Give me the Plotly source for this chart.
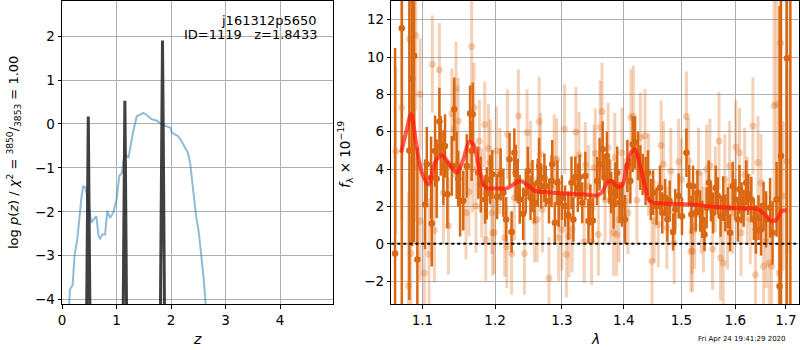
import plotly.graph_objects as go

# ---------------- Left panel: log p(z) ----------------
pz_z = [0.128, 0.146, 0.195, 0.23, 0.28, 0.33, 0.36, 0.39, 0.43, 0.46, 0.50, 0.54, 0.60, 0.63, 0.67,
        0.70, 0.74, 0.79, 0.83, 0.88, 0.94, 1.00, 1.05, 1.10, 1.13, 1.17, 1.22, 1.26, 1.30, 1.37,
        1.43, 1.49, 1.55, 1.64, 1.73, 1.82, 1.91, 1.99, 2.02, 2.07, 2.13, 2.19, 2.25, 2.31, 2.35,
        2.40, 2.46, 2.51, 2.55, 2.60, 2.64]
pz_logp = [-4.2, -3.77, -3.67, -3.0, -2.63, -1.95, -1.64, -1.42, -1.45, -1.64, -1.95, -2.25, -2.14, -2.1, -2.55,
           -2.61, -2.52, -2.52, -1.98, -2.14, -2.02, -1.72, -1.19, -1.11, -0.81, -0.70, -0.77, -0.43, -0.20, 0.17,
           0.21, 0.25, 0.21, 0.11, 0.08, 0.0, -0.05, -0.09, -0.20, -0.24, -0.28, -0.39, -0.51, -0.66, -0.89,
           -1.42, -2.10, -2.48, -2.93, -3.54, -4.2]

spike_z = [0.452, 0.474, 0.482, 0.490, 0.512, None,
           1.122, 1.145, 1.153, 1.161, 1.184, None,
           1.805, 1.834, 1.843, 1.852, 1.880]
spike_logp = [-4.3, -1.0, 0.17, -1.0, -4.3, None,
              -4.3, -0.6, 0.53, -0.6, -4.3, None,
              -4.3, 0.6, 1.90, 0.6, -4.3]

# ---------------- Right panel: spectrum ----------------
dark_lam = [1.0646, 1.0732, 1.083, 1.0865, 1.0891, 1.0934, 1.1036, 1.1058, 1.1115, 1.1124, 1.1168, 1.119,
            1.1226, 1.1244, 1.128, 1.1302, 1.1334, 1.1394, 1.1428, 1.1461, 1.1482, 1.1508, 1.1552, 1.160,
            1.1646, 1.1668, 1.1682, 1.1762, 1.1796, 1.1857, 1.1881, 1.1928,
            1.196, 1.203, 1.208, 1.212, 1.216, 1.221, 1.224, 1.228, 1.230, 1.233, 1.236, 1.241, 1.245,
            1.248, 1.252, 1.255, 1.258, 1.263, 1.265, 1.268, 1.273, 1.275, 1.280, 1.284, 1.285, 1.289,
            1.293, 1.295, 1.300, 1.305, 1.310, 1.315, 1.318, 1.321, 1.325, 1.328, 1.332, 1.337, 1.342,
            1.345,
            1.349, 1.356, 1.360, 1.365, 1.368, 1.372, 1.376, 1.379, 1.383, 1.386, 1.389, 1.393, 1.397,
            1.402, 1.406, 1.411, 1.415, 1.419, 1.424, 1.428, 1.432, 1.437, 1.441, 1.446, 1.450, 1.456,
            1.462, 1.466, 1.471, 1.475, 1.479, 1.485, 1.489, 1.495, 1.501, 1.509, 1.514, 1.518,
            1.521, 1.526, 1.529, 1.534, 1.538, 1.542, 1.546, 1.550, 1.554, 1.558, 1.563, 1.567, 1.572,
            1.577, 1.581, 1.586, 1.590, 1.595, 1.600, 1.605, 1.608, 1.612, 1.616, 1.621, 1.625, 1.631,
            1.636, 1.640, 1.645, 1.650, 1.655, 1.660, 1.668, 1.673, 1.681, 1.687, 1.690, 1.702, 1.709]
dark_flux = [-0.52, 11.54, 5.0, 8.87, 10.07, -0.84, 2.11, 4.26, 3.54, 1.09, 4.97, 3.49,
             6.55, 5.24, 4.08, 5.24, 2.65, 4.17, 7.2, 4.2, 3.49, 2.29, 2.31, 4.17,
             6.98, 4.97, 6.94, 3.81, 3.18, 2.38, 2.7, 3.45,
             3.72, 2.52, 3.72, 2.74, 1.31, 4.53, 0.64, 4.88, 3.81, 3.36, 2.38, 1.61, 2.74,
             3.9, 2.47, 3.09, 2.2, 3.27, 4.17, 3.09, 3.54, 3.09, 2.29, 3.36, 4.26, 1.13,
             3.27, 2.2, 2.47, 2.02, 1.52, 3.27, 1.31, 3.58, 3.0, 3.58, 2.2, 3.63, 1.22,
             2.08,
             1.25, 3.36, 4.26, 5.06, 3.54, 4.7, 3.36, 2.74, 2.11, 3.18, 3.81, 2.2, 2.11,
             1.31, 4.17, 3.36, 5.33, 5.42, 4.7, 4.08, 3.72, 3.36, 3.81, 2.38, 2.74, 2.02,
             3.0, 1.66, 2.47, 1.31, 2.29, 0.64, 1.84, 2.56, 1.48, 4.88, 3.13, 1.57,
             3.09, 1.66, 2.74, 1.75, 1.31, 0.5, 1.93, 3.27, 2.2, 1.66, 3.0, 2.56, 1.48,
             2.42, 1.66, 1.93, 0.59, 3.09, 2.38, 1.31, 2.92, 2.2, 1.9, 3.27, 2.65, 2.38,
             1.31, 0.77, 1.4, 0.77, 2.02, 1.31, 1.93, 0.59, 2.38, -2.27, 4.7, 9.93, 15.0]
dark_err = [11.0, 15.0, 8.0, 9.0, 10.0, 6.0, 2.4, 2.0, 2.2, 2.3, 1.9, 2.1,
            1.8, 1.6, 2.0, 1.7, 1.8, 1.6, 1.7, 1.8, 1.5, 1.9, 1.6, 1.7,
            1.5, 1.6, 1.7, 1.4, 1.5, 1.3, 1.4, 1.3,
            1.3, 1.2, 1.4, 1.3, 1.2, 1.4, 1.1, 1.3, 1.5, 1.2, 1.3, 1.4, 1.1,
            1.3, 1.2, 1.4, 1.1, 1.3, 1.5, 1.2, 1.3, 1.1, 1.2, 1.4, 1.3, 1.1,
            1.2, 1.3, 1.2, 1.1, 1.3, 1.4, 1.2, 1.1, 1.3, 1.2, 1.1, 1.3, 1.2,
            1.1,
            1.2, 1.3, 1.4, 1.5, 1.2, 1.3, 1.2, 1.1, 1.3, 1.2, 1.4, 1.1, 1.2,
            1.3, 1.4, 1.2, 1.5, 1.4, 1.3, 1.2, 1.1, 1.3, 1.2, 1.1, 1.2, 1.0,
            1.2, 1.1, 1.0, 1.2, 1.1, 1.0, 1.1, 1.2, 1.0, 1.3, 1.1, 1.0,
            1.1, 1.0, 1.2, 1.1, 1.0, 0.9, 1.1, 1.2, 1.0, 1.1, 1.2, 1.0, 1.1,
            1.2, 1.0, 1.1, 1.0, 1.3, 1.1, 1.2, 1.3, 1.1, 1.0, 1.2, 1.1, 1.2,
            1.1, 1.3, 1.2, 1.4, 1.3, 1.5, 1.6, 1.7, 2.0, 15.0, 12.0, 14.0, 20.0]

light_lam = [1.0655, 1.0732, 1.083, 1.0849, 1.0817, 1.0869, 1.0895, 1.0913, 1.097, 1.097, 1.1026, 1.1088,
             1.1132, 1.1159, 1.1226, 1.128, 1.1348, 1.1394, 1.1424, 1.1452, 1.1482, 1.159, 1.1632, 1.1668,
             1.170, 1.1682, 1.1728, 1.1776, 1.181, 1.1853, 1.1867, 1.1905, 1.1928, 1.1952, 1.1966,
             1.199, 1.202, 1.207, 1.214, 1.217, 1.218, 1.224, 1.228, 1.234, 1.243, 1.247, 1.252, 1.258,
             1.262, 1.265, 1.267, 1.270, 1.280, 1.288, 1.292, 1.295, 1.300, 1.304, 1.307, 1.311, 1.316,
             1.322, 1.327, 1.335, 1.337, 1.342, 1.347,
             1.351, 1.353, 1.358, 1.361, 1.364, 1.369, 1.374, 1.378, 1.383, 1.385, 1.388, 1.392, 1.397,
             1.402, 1.407, 1.412, 1.416, 1.422, 1.428, 1.436, 1.442, 1.448, 1.452, 1.459, 1.464, 1.468,
             1.474, 1.481, 1.487, 1.495, 1.500, 1.509, 1.513, 1.517, 1.519,
             1.520, 1.524, 1.531, 1.536, 1.540, 1.546, 1.552, 1.557, 1.562, 1.569, 1.572, 1.577, 1.580,
             1.585, 1.589, 1.595, 1.601, 1.608, 1.611, 1.618, 1.623, 1.629, 1.634, 1.639, 1.644, 1.650,
             1.655, 1.660, 1.666, 1.671, 1.676, 1.681, 1.686, 1.689, 1.694, 1.702]
light_flux = [4.97, 7.3, 10.97, -0.52, -2.24, 4.53, 4.22, 11.15, 8.01, 1.22, -1.56, -0.57,
              9.62, 0.73, 9.32, 2.74, 0.95, 6.98, 6.14, 8.32, 6.58, 1.66, 2.79, 10.57,
              7.3, 3.99, 2.02, 5.51, 2.74, 6.39, 0.23, 5.1, 4.35, 1.66, 0.59,
              0.59, 4.97, 3.9, 0.32, -0.16, 5.87, -0.52, 2.47, 6.85, -0.52, 5.96, 4.17, 1.22,
              1.31, 6.55, 4.79, 1.84, -1.84, 4.53, 4.53, 0.32, 0.77, 6.14, -0.57, 0.41, 0.77,
              5.99, 4.76, 0.11, 4.22, 3.09, 0.11,
              4.08, 4.85, 0.5, 6.23, 7.08, 2.38, 5.15, 2.29, 0.59, 4.62, 0.5, 1.31, 4.88,
              2.29, 1.66, 6.76, 6.85, 2.33, 5.69, 5.78, 3.72, -0.93, 1.22, 1.04, 5.28, 4.26,
              0.86, 3.9, 0.05, 4.4, 3.45, 6.82, 4.44, -0.39, 0.68,
              -0.39, 0.95, 3.81, 1.66, 0.77, 3.99, 4.2, -0.27, 2.92, 5.51, -0.75, -1.02, 3.45,
              0.95, 4.17, 1.66, 5.19, 4.88, 0.59, 3.72, 2.38, 1.31, 6.31, -1.65, 4.35, 3.27,
              -1.2, 0.14, -1.02, -1.2, 7.39, 7.48, -1.56, 10.75, 2.56, 4.44]
light_err = [4.5, 6.0, 6.0, 5.0, 5.0, 3.5, 3.0, 4.0, 3.0, 3.2, 2.8, 3.0,
             2.6, 2.8, 2.5, 2.7, 2.6, 2.4, 2.6, 2.5, 2.3, 2.5, 2.4, 2.6,
             2.4, 2.3, 2.5, 2.2, 2.4, 2.3, 2.2, 2.4, 2.3, 2.2, 2.3,
             2.2, 2.4, 2.3, 2.1, 2.2, 2.4, 2.2, 2.3, 2.5, 2.2, 2.3, 2.4, 2.2,
             2.3, 2.4, 2.2, 2.3, 2.2, 2.4, 2.2, 2.3, 2.2, 2.4, 2.3, 2.2, 2.3,
             2.4, 2.3, 2.2, 2.3, 2.2, 2.3,
             2.3, 2.4, 2.2, 2.5, 2.6, 2.3, 2.4, 2.2, 2.3, 2.4, 2.2, 2.3, 2.4,
             2.3, 2.2, 2.6, 2.7, 2.3, 2.4, 2.5, 2.2, 2.3, 2.2, 2.3, 2.4, 2.3,
             2.2, 2.3, 2.2, 2.3, 2.2, 2.4, 2.3, 2.2, 2.3,
             2.2, 2.3, 2.4, 2.2, 2.3, 2.4, 2.5, 2.2, 2.3, 2.6, 2.3, 2.2, 2.4,
             2.3, 2.4, 2.2, 2.5, 2.4, 2.3, 2.5, 2.3, 2.4, 2.6, 2.3, 2.5, 2.6,
             2.4, 2.5, 2.6, 2.5, 6.0, 6.5, 3.5, 8.0, 4.0, 5.0]

model_lam = [1.0723, 1.0787, 1.0852, 1.0917, 1.0992, 1.1079, 1.1169, 1.1258, 1.1348, 1.1462, 1.1553,
             1.1636, 1.1692, 1.1786, 1.1871, 1.2024, 1.2169, 1.2266, 1.2375, 1.2464, 1.2589, 1.2766,
             1.3022, 1.3338, 1.3553, 1.3634, 1.3726, 1.3798, 1.3882, 1.3965, 1.4049, 1.4122, 1.4189,
             1.4262, 1.4360, 1.4446, 1.4678, 1.4975, 1.5277, 1.5583, 1.5898, 1.6153, 1.6414, 1.6544,
             1.6711, 1.6812, 1.6913, 1.7014]
model_flux = [4.88, 5.96, 6.94, 5.42, 3.81, 3.18, 4.35, 4.74, 4.35, 3.81, 4.53,
              5.46, 5.33, 3.81, 3.0, 2.97, 2.97, 3.18, 3.36, 3.18, 2.83, 2.77,
              2.70, 2.65, 2.59, 2.74, 3.27, 3.36, 3.09, 3.09, 4.17, 4.88, 5.06,
              4.35, 3.09, 2.29, 2.16, 2.13, 2.08, 1.99, 1.93, 1.90, 1.88, 1.66,
              1.22, 1.31, 1.75, 1.79]

left_xticks = [0, 1, 2, 3, 4]
left_yticks = [-4, -3, -2, -1, 0, 1, 2]
right_xticks = [1.1, 1.2, 1.3, 1.4, 1.5, 1.6, 1.7]
right_yticks = [-2, 0, 2, 4, 6, 8, 10, 12]

FONT = "DejaVu Sans"
ORANGE = "rgb(218,103,18)"
ORANGE_L = "rgba(218,103,18,0.3)"

fig = go.Figure()

fig.add_trace(go.Scatter(x=pz_z, y=pz_logp, mode="lines", xaxis="x", yaxis="y",
                         line=dict(color="rgba(31,119,180,0.5)", width=2), hoverinfo="skip"))
fig.add_trace(go.Scatter(x=spike_z, y=spike_logp, mode="lines", xaxis="x", yaxis="y",
                         line=dict(color="rgba(30,30,30,0.85)", width=3), hoverinfo="skip"))

fig.add_trace(go.Scatter(x=light_lam, y=light_flux, mode="markers", xaxis="x2", yaxis="y2",
                         marker=dict(color=ORANGE_L, size=7, line=dict(width=0)),
                         error_y=dict(type="data", array=light_err, color=ORANGE_L,
                                      thickness=3, width=0)))
fig.add_trace(go.Scatter(x=dark_lam, y=dark_flux, mode="markers", xaxis="x2", yaxis="y2",
                         marker=dict(color=ORANGE, size=6.5, line=dict(width=0)),
                         error_y=dict(type="data", array=dark_err, color=ORANGE,
                                      thickness=2.5, width=0)))
fig.add_trace(go.Scatter(x=model_lam, y=model_flux, mode="lines", xaxis="x2", yaxis="y2",
                         line=dict(color="rgba(255,25,15,0.72)", width=4, shape="spline"),
                         hoverinfo="skip"))

fig.add_shape(type="line", xref="x2 domain", x0=0, x1=1, yref="y2", y0=0, y1=0,
              line=dict(color="black", width=2, dash="dot"))

axis_common = dict(showgrid=True, gridcolor="#b0b0b0", gridwidth=1, zeroline=False,
                   showline=True, linecolor="black", linewidth=1, mirror=True,
                   ticks="outside", ticklen=3.5, tickwidth=1, tickcolor="black", automargin=False,
                   tickfont=dict(family=FONT, size=13.5, color="black"))

ydom = [1 - 304 / 350, 1 - 1 / 350]
fig.update_layout(
    width=800, height=350,
    margin=dict(l=0, r=0, t=0, b=0, autoexpand=False),
    paper_bgcolor="white", plot_bgcolor="white",
    showlegend=False,
    font=dict(family=FONT, size=13.5, color="black"),
    xaxis=dict(domain=[62 / 800, 333 / 800], range=[0, 4.97], anchor="y",
               tickvals=left_xticks, ticktext=[str(v) for v in left_xticks], **axis_common),
    yaxis=dict(domain=ydom, range=[-4.1, 2.8], anchor="x",
               tickvals=left_yticks, ticktext=[str(v).replace("-", "−") for v in left_yticks],
               **axis_common),
    xaxis2=dict(domain=[391.3 / 800, 799 / 800], type="log", range=[0.02522, 0.23723], anchor="y2",
                tickvals=right_xticks, ticktext=[f"{v:.1f}" for v in right_xticks], **axis_common),
    yaxis2=dict(domain=ydom, range=[-3.22, 13], anchor="x2",
                tickvals=right_yticks, ticktext=[str(v).replace("-", "−") for v in right_yticks],
                **axis_common),
)

ann = [
    dict(text="j161312p5650", x=319, y=20, xanchor="right", yanchor="middle", size=13),
    dict(text="ID=1119   z=1.8433", x=319, y=35, xanchor="right", yanchor="middle", size=13),
    dict(text="<i>z</i>", x=197, y=339, xanchor="center", yanchor="middle", size=14),
    dict(text="<i>λ</i>", x=595, y=339, xanchor="center", yanchor="middle", size=14),
    dict(text="Fri Apr 24 19:41:29 2020", x=788, y=339, xanchor="right", yanchor="middle", size=7),
]
for a in ann:
    fig.add_annotation(text=a["text"], xref="paper", yref="paper",
                       x=a["x"] / 800, y=1 - a["y"] / 350, xanchor=a["xanchor"], yanchor=a["yanchor"],
                       showarrow=False, font=dict(family=FONT, size=a["size"], color="black"))

fig.add_annotation(text="log <i>p</i>(<i>z</i>) / <i>χ</i><sup>2</sup> = <sup>3850</sup>/<sub>3853</sub> = 1.00",
                   xref="paper", yref="paper", x=14 / 800, y=1 - 153 / 350, textangle=-90,
                   xanchor="center", yanchor="middle", showarrow=False,
                   font=dict(family=FONT, size=13, color="black"))
fig.add_annotation(text="<i>f</i><sub>λ</sub> × 10<sup>−19</sup>",
                   xref="paper", yref="paper", x=345 / 800, y=1 - 155 / 350, textangle=-90,
                   xanchor="center", yanchor="middle", showarrow=False,
                   font=dict(family=FONT, size=13.5, color="black"))

fig.write_html("out.html", config={"displayModeBar": False},
               post_script="document.body.style.margin='0';document.body.style.padding='0';"
                           "document.body.style.overflow='hidden';")
